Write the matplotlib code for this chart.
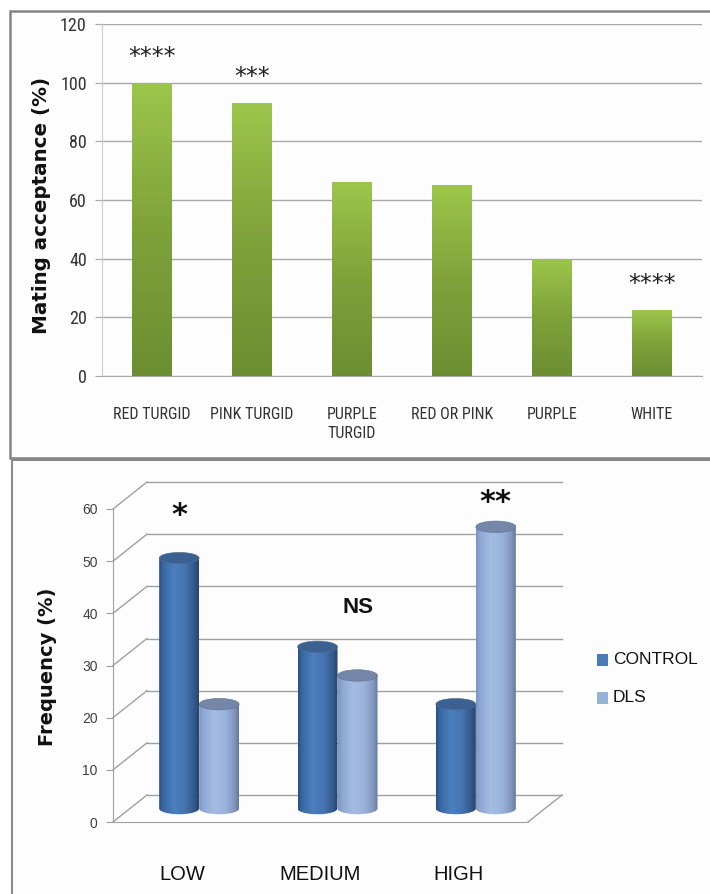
import numpy as np
import matplotlib
matplotlib.use('Agg')
import matplotlib.pyplot as plt
from matplotlib import font_manager
from matplotlib.patches import Rectangle, Ellipse, PathPatch
from matplotlib.path import Path
from matplotlib.transforms import Affine2D
from matplotlib.colors import LinearSegmentedColormap

# ---------------- data ----------------
colour_categories = ['RED TURGID', 'PINK TURGID', 'PURPLE\nTURGID', 'RED OR PINK', 'PURPLE', 'WHITE']
mating_acceptance = [100, 93, 66, 65, 40, 22.5]
mating_stars = ['****', '***', '', '', '', '****']
top_yticks = [0, 20, 40, 60, 80, 100, 120]

freq_categories = ['LOW', 'MEDIUM', 'HIGH']
freq_series = ['CONTROL', 'DLS']
control_freq = [48, 31, 20]
dls_freq = [20, 25.5, 54]
freq_marks = ['*', 'NS', '**']
bottom_yticks = [0, 10, 20, 30, 40, 50, 60]

# ---------------- fonts ----------------
avail = {f.name for f in font_manager.fontManager.ttflist}
def pick(*names):
    for n in names:
        if n in avail:
            return n
    return 'DejaVu Sans'
narrow = pick('Liberation Sans Narrow', 'DejaVu Sans Condensed', 'Roboto Condensed', 'Liberation Sans')
is_narrow = narrow != 'Liberation Sans'
regular = pick('Liberation Sans', 'Arial', 'DejaVu Sans')

W, H = 710, 894
fig = plt.figure(figsize=(W / 100, H / 100), dpi=100)
fig.patch.set_facecolor('white')

def fx(px):
    return px / W

def fy(py):
    return 1 - py / H

# panel frames
fig.patches.append(Rectangle((fx(10), fy(458)), fx(720), (458 - 11) / H, transform=fig.transFigure,
                             facecolor='#fdfdfd', edgecolor='#858585', lw=1.8, zorder=-5))
fig.patches.append(Rectangle((fx(12), fy(900)), fx(720), (900 - 460) / H, transform=fig.transFigure,
                             facecolor='#fdfdfd', edgecolor='#8a8a8a', lw=1.5, zorder=-5))

# ---------------- top chart ----------------
ax1 = fig.add_axes([fx(102), fy(376), fx(600), (376 - 24) / H])
ax1.set_facecolor('none')
xpos = np.arange(len(colour_categories))
green = LinearSegmentedColormap.from_list('g', ['#6b8f30', '#7ea23a', '#9cc64b'])
bars = ax1.bar(xpos, mating_acceptance, width=0.4, color='#86ad3e', zorder=2)
grad = np.linspace(0, 1, 256).reshape(-1, 1)
for b in bars:
    im = ax1.imshow(grad, cmap=green, origin='lower', aspect='auto', zorder=3,
                    extent=[b.get_x(), b.get_x() + b.get_width(), 0, b.get_height()])
    im.set_clip_path(b)
ax1.set_xlim(-0.5, len(colour_categories) - 0.5)
ax1.set_ylim(0, 120)
ax1.set_yticks(top_yticks)
ax1.yaxis.grid(True, color='#a8a8a8', lw=1.0)
ax1.set_axisbelow(True)
for s in ['top', 'right']:
    ax1.spines[s].set_visible(False)
ax1.spines['left'].set_color('#cccccc')
ax1.spines['bottom'].set_color('#a8a8a8')
ax1.tick_params(axis='y', length=5, color='#a8a8a8', pad=6, labelsize=13 if is_narrow else 11,
                labelcolor='#333333')
ax1.tick_params(axis='x', length=0, pad=22, labelsize=11.5 if is_narrow else 9.5, labelcolor='#333333')
ax1.set_xticks(xpos)
ax1.set_xticklabels(colour_categories, linespacing=1.35)
for lab in ax1.get_xticklabels() + ax1.get_yticklabels():
    lab.set_fontfamily(narrow)
for xi, v, s in zip(xpos, mating_acceptance, mating_stars):
    if s:
        ax1.annotate(s, (xi, v), xytext=(0, 10), textcoords='offset points', ha='center', va='bottom',
                     fontsize=17, color='#222222', family='DejaVu Sans')
fig.text(fx(42), fy(205), 'Mating acceptance (%)', rotation=90, ha='center', va='center',
         fontsize=14.3, fontweight='bold', color='#111111', family='DejaVu Sans')

# ---------------- bottom chart (pseudo 3D) ----------------
ax2 = fig.add_axes([fx(113), fy(822), fx(415), (822 - 509) / H])
ax2.set_facecolor('none')
ax2.set_xlim(0, 3)
ax2.set_ylim(0, 60)
DX, DY = 34, 27  # depth offset in pixels
mid = ax2.transData + Affine2D().translate(DX / 2, DY / 2)

def to_depth(x, y, frac=1.0):
    p = ax2.transData.transform((x, y)) + np.array([DX, DY]) * frac
    return ax2.transData.inverted().transform(p)

grid_c = '#a0a0a0'
for v in bottom_yticks:
    b0 = to_depth(0, v)
    b1 = to_depth(3, v)
    ax2.plot([b0[0], b1[0]], [b0[1], b1[1]], color=grid_c, lw=1, clip_on=False, zorder=1)
    ax2.plot([0, b0[0]], [v, b0[1]], color=grid_c, lw=1, clip_on=False, zorder=1)
br = to_depth(3, 0)
ax2.plot([3, br[0]], [0, br[1]], color=grid_c, lw=1, clip_on=False, zorder=1)

for s in ['top', 'right']:
    ax2.spines[s].set_visible(False)
ax2.spines['left'].set_color(grid_c)
ax2.spines['bottom'].set_color(grid_c)
ax2.set_yticks(bottom_yticks)
ax2.tick_params(axis='y', length=5, color=grid_c, pad=6, labelsize=10, labelcolor='#404040')
for lab in ax2.get_yticklabels():
    lab.set_fontfamily(regular)
ax2.set_xticks(np.arange(len(freq_categories)) + 0.5)
ax2.set_xticklabels(freq_categories, fontsize=14.5, family=regular, color='#111111')
ax2.tick_params(axis='x', length=0, pad=31)

bw = 40 / (415 / 3)
eh = 2.2
ctrl_cmap = LinearSegmentedColormap.from_list('c', [(0, '#2a4e7e'), (0.1, '#3868a2'), (0.38, '#4b7fbf'),
                                                   (0.65, '#4574b0'), (0.88, '#33598b'), (1, '#284469')])
dls_cmap = LinearSegmentedColormap.from_list('d', [(0, '#7b95c0'), (0.1, '#8ea8d3'), (0.38, '#a5bde4'),
                                                  (0.65, '#9bb3db'), (0.88, '#8398bf'), (1, '#66789a')])
top_cols = ['#3a6192', '#7587a9']
hgrad = np.linspace(0, 1, 256).reshape(1, -1)

def cylinder(xc, v, cmap, topc):
    x0, x1 = xc - bw / 2, xc + bw / 2
    t = np.linspace(np.pi, 2 * np.pi, 40)
    arc = np.column_stack([xc + bw / 2 * np.cos(t), eh / 2 * np.sin(t)])
    verts = np.vstack([[x0, v], arc, [x1, v], [x0, v]])
    codes = [Path.MOVETO] + [Path.LINETO] * (len(verts) - 2) + [Path.CLOSEPOLY]
    body = PathPatch(Path(verts, codes), transform=mid, facecolor='none', edgecolor='none',
                     clip_on=False)
    ax2.add_patch(body)
    im = ax2.imshow(hgrad, cmap=cmap, aspect='auto', extent=[x0, x1, -eh, v], zorder=3)
    im.set_transform(mid)
    im.set_clip_path(body)
    ax2.add_patch(Ellipse((xc, v), bw, eh, transform=mid, facecolor=topc, edgecolor='#5a6f8f',
                          lw=0.4, zorder=4, clip_on=False))

groups = np.arange(len(freq_categories)) + 0.5
for j, (vals, cmap) in enumerate([(control_freq, ctrl_cmap), (dls_freq, dls_cmap)]):
    for g, v in zip(groups, vals):
        cylinder(g + (j - 0.5) * bw, v, cmap, top_cols[j])
ax2.set_xlim(0, 3)
ax2.set_ylim(0, 60)

# significance marks
mark_x = [groups[0] - 0.5 * bw, groups[1] + 0.15, groups[2] + 0.5 * bw]
mark_y = [56.2, 38.5, 58.6]
mark_size = [22, 16, 22]
for m, mx, my, ms in zip(freq_marks, mark_x, mark_y, mark_size):
    ax2.text(mx, my, m, transform=mid, ha='center', va='center', fontsize=ms, fontweight='bold',
             color='#111111', family='DejaVu Sans' if '*' in m else regular, clip_on=False)

fig.text(fx(48), fy(667), 'Frequency (%)', rotation=90, ha='center', va='center',
         fontsize=14, fontweight='bold', color='#111111', family='DejaVu Sans')

# legend
leg_cols = ['#4a7bb7', '#95b3d7']
for k, (name, c) in enumerate(zip(freq_series, leg_cols)):
    yc = 660 + 38 * k
    fig.patches.append(Rectangle((fx(597), fy(yc + 6)), fx(11), 12 / H, transform=fig.transFigure,
                                 facecolor=c, edgecolor='none'))
    fig.text(fx(613), fy(yc), name, ha='left', va='center', fontsize=12.5, family=regular,
             color='#111111')

fig.savefig('out.png', dpi=100)
